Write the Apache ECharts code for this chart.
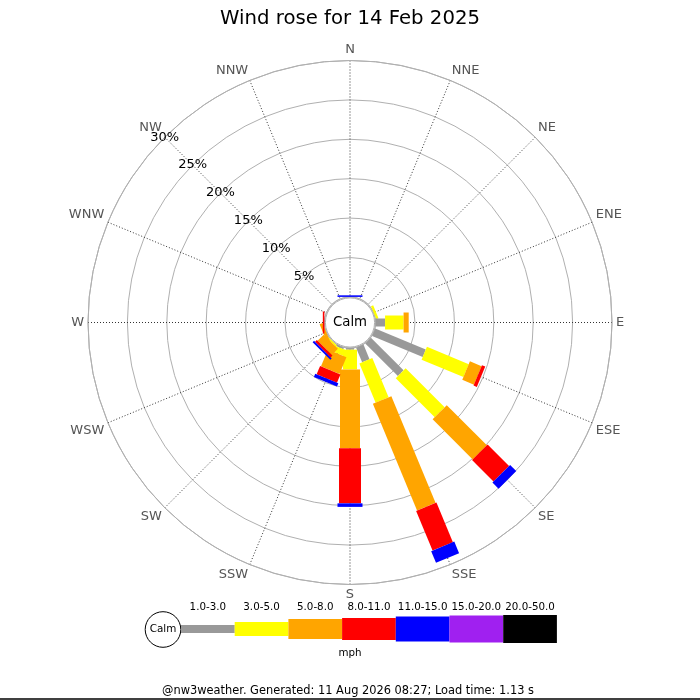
<!DOCTYPE html>
<html><head><meta charset="utf-8">
<script src="https://cdn.jsdelivr.net/npm/echarts@6/dist/echarts.min.js"></script>
<style>html,body{margin:0;padding:0;background:#fff}#c{width:700px;height:700px}</style>
</head><body><div id="c"></div>
<script>
// ---- data ----
const directions = ['N','NNE','NE','ENE','E','ESE','SE','SSE','S','SSW','SW','WSW','W','WNW','NW','NNW'];
const speedClasses = ['1.0-3.0','3.0-5.0','5.0-8.0','8.0-11.0','11.0-15.0','15.0-20.0','20.0-50.0'];
// percentage of time per direction, per speed class (mph)
const spd1_3   = [0,   0, 0, 0,   1.2,  6.95, 5.85, 2.0,  0.2, 0.2,  0,    0,   0,   0, 0, 0];
const spd3_5   = [0,   0, 0, 0.3, 2.35, 5.75, 7.0,  5.4,  2.5, 0.8,  0.2,  0,   0,   0, 0, 0];
const spd5_8   = [0,   0, 0, 0,   0.65, 1.6,  7.2,  14.65,10.0,2.3,  1.1,  0.4, 0,   0, 0, 0];
const spd8_11  = [0,   0, 0, 0,   0,    0.45, 3.85, 5.45, 7.0, 1.15, 0.32, 0,   0.2, 0, 0, 0];
const spd11_15 = [0.2, 0, 0, 0,   0,    0,    1.1,  1.6,  0.45,0.45, 0.25, 0,   0,   0, 0, 0];
const spd15_20 = [0,   0, 0, 0,   0,    0,    0,    0,    0,   0,    0,    0,   0,   0, 0, 0];
const spd20_50 = [0,   0, 0, 0,   0,    0,    0,    0,    0,   0,    0,    0,   0,   0, 0, 0];
const ringValues = [5, 10, 15, 20, 25, 30];
const ringLabels = ['5%', '10%', '15%', '20%', '25%', '30%'];
const titleText = 'Wind rose for 14 Feb 2025';
const unitText = 'mph';
const calmText = 'Calm';
const footerText = '@nw3weather. Generated: 11 Aug 2026 08:27; Load time: 1.13 s';

// ---- styles ----
const classColors = ['#999999','#ffff00','#ffa500','#ff0000','#0000ff','#a020f0','#000000'];
const classWidths = [8, 14, 20, 22, 25, 27, 28];
const FONT = 'DejaVu Sans';

const allClasses = [spd1_3, spd3_5, spd5_8, spd8_11, spd11_15, spd15_20, spd20_50];
const step = 360 / directions.length;
const barData = [];
directions.forEach((d, i) => {
  let cum = 0;
  allClasses.forEach((arr, k) => {
    const v = arr[i];
    if (v > 0) { barData.push([cum, i * step, cum + v, k]); cum += v; }
  });
});
const labelAngle = 315;
const ringData = ringValues.map(v => [v, labelAngle]);

function renderBar(params, api) {
  const cs = params.coordSys;
  const s = api.value(0), a = api.value(1), e = api.value(2), k = api.value(3);
  const p0 = api.coord([s, a]), p1 = api.coord([e, a]);
  let ux = p1[0] - cs.cx, uy = p1[1] - cs.cy;
  const len = Math.sqrt(ux * ux + uy * uy) || 1;
  ux /= len; uy /= len;
  const nx = -uy, ny = ux, hw = classWidths[k] / 2;
  return {
    type: 'polygon',
    shape: { points: [
      [p0[0] + nx * hw, p0[1] + ny * hw],
      [p1[0] + nx * hw, p1[1] + ny * hw],
      [p1[0] - nx * hw, p1[1] - ny * hw],
      [p0[0] - nx * hw, p0[1] - ny * hw]
    ] },
    style: { fill: classColors[k] }
  };
}

// legend graphic
const legX0 = 181, legW = 53.7, legY = 629;
const graphics = [
  { type: 'circle', shape: { cx: 163, cy: 629.5, r: 17.8 }, style: { fill: '#fff', stroke: '#000', lineWidth: 1 } },
  { type: 'text', x: 163, y: 629.5, style: { text: calmText, fill: '#000', fontSize: 10.4, fontFamily: FONT, align: 'center', verticalAlign: 'middle' } },
  { type: 'text', x: 350, y: 653.5, style: { text: unitText, fill: '#000', fontSize: 10.3, fontFamily: FONT, align: 'center', verticalAlign: 'middle' } },
  { type: 'text', x: 348, y: 691.5, style: { text: footerText, fill: '#000', fontSize: 11.4, fontFamily: FONT, align: 'center', verticalAlign: 'middle' } },
  { type: 'line', shape: { x1: 0, y1: 699, x2: 700, y2: 699 }, style: { stroke: '#000', lineWidth: 1.5 } }
];
speedClasses.forEach((lab, k) => {
  const h = classWidths[k];
  graphics.push({ type: 'rect', shape: { x: legX0 + k * legW, y: legY - h / 2, width: legW, height: h }, style: { fill: classColors[k] } });
  graphics.push({ type: 'text', x: legX0 + k * legW + legW / 2, y: 607, style: { text: lab, fill: '#000', fontSize: 10.3, fontFamily: FONT, align: 'center', verticalAlign: 'middle' } });
});

const chart = echarts.init(document.getElementById('c'));
chart.setOption({
  animation: false,
  backgroundColor: '#fff',
  title: { text: titleText, left: 'center', top: 4, textStyle: { fontSize: 19.7, fontWeight: 'normal', color: '#000', fontFamily: FONT } },
  polar: { center: [350, 322.5], radius: [25.6, 262] },
  angleAxis: {
    type: 'value', min: 0, max: 360, interval: step, startAngle: 90, clockwise: true,
    axisLine: { show: true, lineStyle: { color: '#b0b0b0', width: 1 } },
    axisTick: { show: false },
    axisLabel: { margin: 4, color: '#555', fontSize: 13, fontFamily: FONT,
      formatter: v => (v >= 360 ? '' : directions[Math.round(v / step)]) },
    splitLine: { show: true, lineStyle: { color: '#333', width: 1, type: [1, 2] } }
  },
  radiusAxis: {
    type: 'value', min: 0, max: 30, interval: 5,
    axisLine: { show: false }, axisTick: { show: false }, axisLabel: { show: false },
    splitLine: { show: true, lineStyle: { color: '#b0b0b0', width: 1 } }
  },
  series: [
    { type: 'custom', coordinateSystem: 'polar', renderItem: renderBar, data: barData, z: 3, silent: true },
    { type: 'custom', coordinateSystem: 'polar', data: [[0, 0]], z: 4, silent: true,
      renderItem: (params, api) => {
        const cs = params.coordSys;
        return { type: 'group', children: [
          { type: 'circle', shape: { cx: cs.cx, cy: cs.cy, r: cs.r0 - 1 }, style: { fill: '#fff', stroke: '#b0b0b0', lineWidth: 1 } },
          { type: 'text', x: cs.cx, y: cs.cy, style: { text: calmText, fill: '#000', fontSize: 13.3, fontFamily: FONT, align: 'center', verticalAlign: 'middle' } }
        ] };
      } },
    { type: 'custom', coordinateSystem: 'polar', data: ringData, z: 5, silent: true,
      renderItem: (params, api) => {
        const p = api.coord([api.value(0), api.value(1)]);
        return { type: 'text', x: p[0], y: p[1], style: { text: ringLabels[params.dataIndex], fill: '#000', fontSize: 13, fontFamily: FONT, align: 'center', verticalAlign: 'middle' } };
      } }
  ],
  graphic: graphics
});
</script></body></html>
